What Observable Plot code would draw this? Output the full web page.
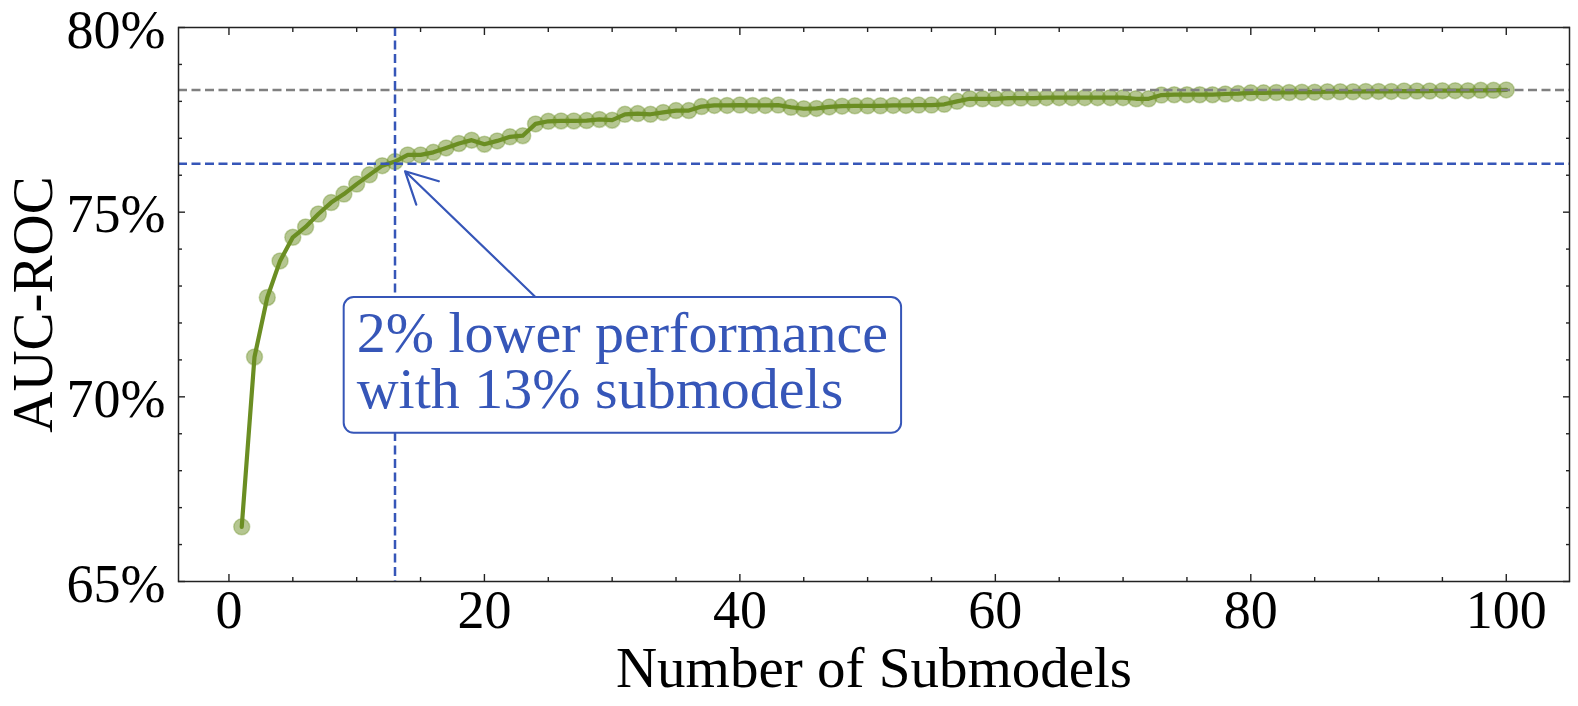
<!DOCTYPE html>
<html>
<head>
<meta charset="utf-8">
<script src="https://cdn.jsdelivr.net/npm/d3@7"></script>
<script src="https://cdn.jsdelivr.net/npm/@observablehq/plot@0.6"></script>
<style>
  html, body { margin: 0; padding: 0; background: #fff; }
  #chart svg { display: block; }
</style>
</head>
<body>
<div id="chart"></div>
<script>
// AUC-ROC (%) for 1..100 submodels
const auc = [
  66.48, 71.08, 72.69, 73.68, 74.32, 74.60, 74.95, 75.26, 75.49, 75.76,
  76.01, 76.26, 76.37, 76.55, 76.55, 76.62, 76.74, 76.86, 76.95, 76.84,
  76.93, 77.04, 77.07, 77.39, 77.46, 77.47, 77.47, 77.48, 77.51, 77.49,
  77.65, 77.67, 77.65, 77.70, 77.75, 77.75, 77.86, 77.89, 77.89, 77.90,
  77.89, 77.89, 77.90, 77.84, 77.80, 77.81, 77.85, 77.87, 77.88, 77.88,
  77.88, 77.89, 77.89, 77.90, 77.90, 77.92, 78.00, 78.07, 78.07, 78.07,
  78.09, 78.09, 78.09, 78.10, 78.10, 78.10, 78.10, 78.10, 78.10, 78.10,
  78.07, 78.07, 78.17, 78.18, 78.18, 78.18, 78.18, 78.20, 78.21, 78.23,
  78.23, 78.24, 78.24, 78.25, 78.25, 78.26, 78.26, 78.26, 78.27, 78.27,
  78.27, 78.28, 78.28, 78.28, 78.29, 78.29, 78.29, 78.30, 78.30, 78.31
];
const submodels = auc.map((_, i) => i + 1);

const xTicks = [0, 20, 40, 60, 80, 100];
const xMinorTicks = [5, 10, 15, 25, 30, 35, 45, 50, 55, 65, 70, 75, 85, 90, 95];
const yTicks = [65, 70, 75, 80];
const yMinorTicks = [66, 67, 68, 69, 71, 72, 73, 74, 76, 77, 78, 79];

const highlightCount = 13;
const performanceGap = 2;
const annotationLines = ["2% lower performance", "with 13% submodels"];
const annotationAnchor = { x: 10.0, y: 70.94 };
const arrowTail = { x: 24.9, y: 72.4 };
const xLabel = "Number of Submodels";
const yLabel = "AUC-ROC";

const green = "#6b8e23";
const blue = "#3656b8";
const gray = "#808080";
const ink = "#222";

const data = submodels.map((n, i) => ({ n, auc: auc[i] }));
const best = d3.max(auc);
const threshold = best - performanceGap;
const highlight = data.find(d => d.n === highlightCount);

const tickOpts = { stroke: ink, strokeWidth: 1.4, tickFormat: () => "", label: null };

const chart = Plot.plot({
  width: 1578,
  height: 706,
  marginLeft: 178,
  marginRight: 9,
  marginTop: 27,
  marginBottom: 125,
  style: { fontFamily: "'Liberation Serif', serif", background: "#fff", color: ink },
  x: { domain: [-3.95, 104.95] },
  y: { domain: [65, 80] },
  marks: [
    // inward major / minor ticks on all four sides
    Plot.axisX({ ...tickOpts, anchor: "bottom", ticks: xTicks, tickSize: 7, dy: -7 }),
    Plot.axisX({ ...tickOpts, anchor: "bottom", ticks: xMinorTicks, tickSize: 4, dy: -4 }),
    Plot.axisX({ ...tickOpts, anchor: "top", ticks: xTicks, tickSize: 7, dy: 7 }),
    Plot.axisX({ ...tickOpts, anchor: "top", ticks: xMinorTicks, tickSize: 4, dy: 4 }),
    Plot.axisY({ ...tickOpts, anchor: "left", ticks: yTicks, tickSize: 7, dx: 7 }),
    Plot.axisY({ ...tickOpts, anchor: "left", ticks: yMinorTicks, tickSize: 4, dx: 4 }),
    Plot.axisY({ ...tickOpts, anchor: "right", ticks: yTicks, tickSize: 7, dx: -7 }),
    Plot.axisY({ ...tickOpts, anchor: "right", ticks: yMinorTicks, tickSize: 4, dx: -4 }),
    // tick labels
    Plot.axisX({ anchor: "bottom", ticks: xTicks, tickSize: 0, tickPadding: 8, fontSize: 54, label: null, fill: "#000" }),
    Plot.axisY({ anchor: "left", ticks: yTicks, tickSize: 0, tickPadding: 13, fontSize: 54, dy: 3, label: null, fill: "#000", tickFormat: d => d + "%" }),
    // axis titles
    Plot.text([xLabel], { frameAnchor: "bottom", textAnchor: "middle", dy: 105, lineAnchor: "bottom", fontSize: 57, fill: "#000" }),
    Plot.text([yLabel], { frameAnchor: "left", textAnchor: "middle", dx: -127, rotate: -90, lineAnchor: "bottom", fontSize: 57, fill: "#000" }),
    // data
    Plot.dot(data, { x: "n", y: "auc", r: 8, fill: green, fillOpacity: 0.5, stroke: green, strokeOpacity: 0.35, strokeWidth: 1.5 }),
    Plot.line(data, { x: "n", y: "auc", stroke: green, strokeWidth: 4.2 }),
    // reference lines
    Plot.ruleY([best], { stroke: gray, strokeWidth: 2.5, strokeDasharray: "9,4.5" }),
    Plot.ruleY([threshold], { stroke: blue, strokeWidth: 2.5, strokeDasharray: "9,4.5" }),
    Plot.ruleX([highlightCount], { stroke: blue, strokeWidth: 2.5, strokeDasharray: "9,4.5" }),
    Plot.frame({ stroke: ink, strokeWidth: 1.5 }),
    // annotation arrow
    Plot.arrow([{ x1: arrowTail.x, y1: arrowTail.y, x2: highlight.n, y2: highlight.auc }], {
      x1: "x1", y1: "y1", x2: "x2", y2: "y2",
      stroke: blue, strokeWidth: 2.2, headLength: 24, headAngle: 55, insetEnd: 14
    }),
    // annotation text (box added after render)
    Plot.text([annotationLines.join("\n")], {
      x: () => annotationAnchor.x, y: () => annotationAnchor.y,
      textAnchor: "start", lineAnchor: "middle", lineHeight: 0.96,
      fontSize: 58, fill: blue
    })
  ]
});

document.getElementById("chart").append(chart);

// rounded box around the annotation text
const annText = [...chart.querySelectorAll("text")].find(t => t.textContent.startsWith("2%"));
if (annText) {
  const g = annText.closest("g");
  const bb = annText.getBBox();
  const rect = document.createElementNS("http://www.w3.org/2000/svg", "rect");
  rect.setAttribute("x", bb.x - 13);
  rect.setAttribute("y", bb.y - 3);
  rect.setAttribute("width", bb.width + 26);
  rect.setAttribute("height", bb.height + 15);
  rect.setAttribute("rx", 10);
  rect.setAttribute("ry", 10);
  rect.setAttribute("fill", "#fff");
  rect.setAttribute("stroke", blue);
  rect.setAttribute("stroke-width", 2);
  if (annText.getAttribute("transform")) rect.setAttribute("transform", annText.getAttribute("transform"));
  g.insertBefore(rect, annText);
}
</script>
</body>
</html>
